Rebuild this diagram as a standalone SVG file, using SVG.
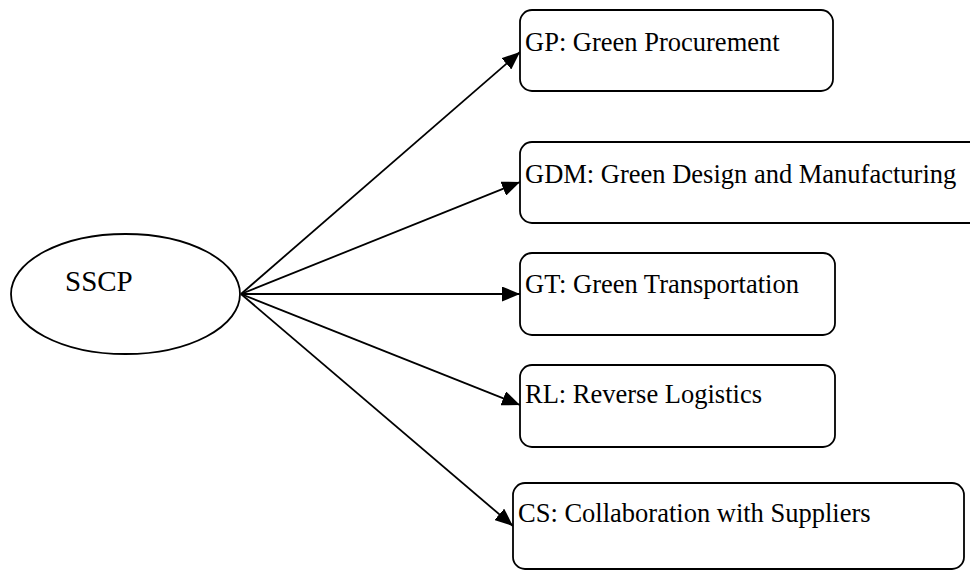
<svg xmlns="http://www.w3.org/2000/svg" width="970" height="570" viewBox="0 0 970 570">
<style>
.box{fill:#fff;stroke:#000;stroke-width:1.8}
.lbl{font-family:"Liberation Serif","Times New Roman",serif;font-size:26.5px;fill:#000}
.edge{stroke:#000;stroke-width:1.8;fill:none;marker-end:url(#ah)}
</style>
<defs>
<marker id="ah" markerUnits="userSpaceOnUse" markerWidth="19" markerHeight="15" refX="18" refY="7.5" orient="auto">
<path d="M0,0 L18,7.5 L0,15 Z" fill="#000"/>
</marker>
</defs>
<rect width="970" height="570" fill="#fff"/>
<g id="edges">
<line class="edge" x1="241" y1="294" x2="520" y2="52"/>
<line class="edge" x1="241" y1="294" x2="520" y2="182"/>
<line class="edge" x1="241" y1="294" x2="520" y2="294"/>
<line class="edge" x1="241" y1="294" x2="520" y2="405"/>
<line class="edge" x1="241" y1="294" x2="513" y2="526"/>
</g>
<g id="SSCP">
<ellipse class="box" cx="125.5" cy="294" rx="114.5" ry="60"/>
<text class="lbl" x="65" y="291" style="font-size:29px">SSCP</text>
</g>
<g id="GP">
<rect class="box" x="520" y="10" width="313" height="81" rx="12"/>
<text class="lbl" x="525" y="51">GP: Green Procurement</text>
</g>
<g id="GDM">
<rect class="box" x="520" y="142" width="470" height="81" rx="12"/>
<text class="lbl" x="525" y="183">GDM: Green Design and Manufacturing</text>
</g>
<g id="GT">
<rect class="box" x="520" y="253" width="315" height="82" rx="12"/>
<text class="lbl" x="525" y="293">GT: Green Transportation</text>
</g>
<g id="RL">
<rect class="box" x="520" y="365" width="315" height="82" rx="12"/>
<text class="lbl" x="525" y="403">RL: Reverse Logistics</text>
</g>
<g id="CS">
<rect class="box" x="513" y="483" width="451" height="86" rx="12"/>
<text class="lbl" x="518" y="522">CS: Collaboration with Suppliers</text>
</g>
</svg>
